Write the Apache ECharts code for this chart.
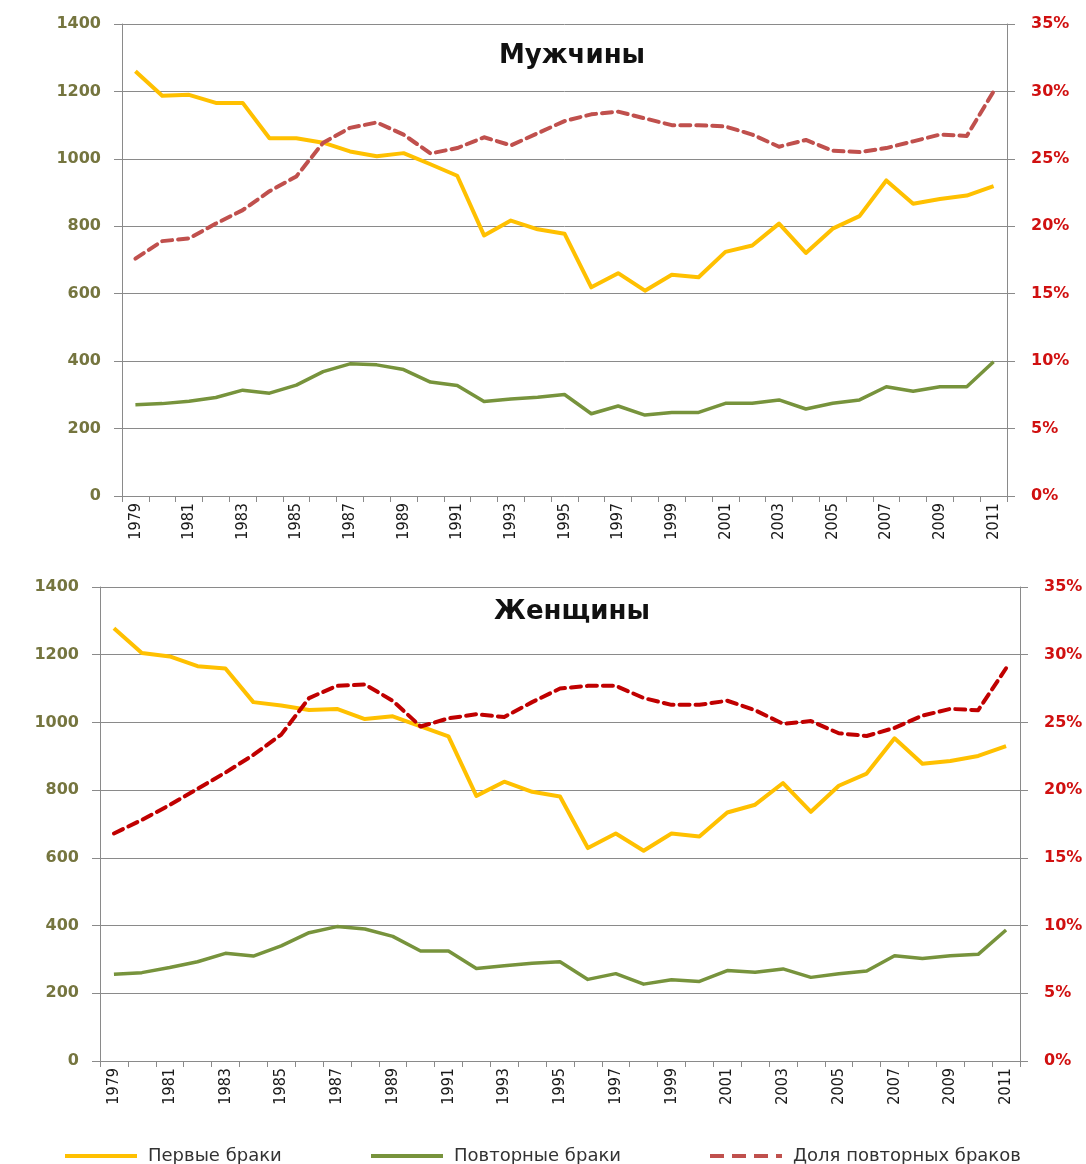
<!DOCTYPE html>
<html>
<head>
<meta charset="utf-8">
<script src="https://cdn.jsdelivr.net/npm/echarts/dist/echarts.min.js"></script>
<style>
  html, body { margin: 0; padding: 0; background: #fff; }
  #chart { width: 1086px; height: 1164px; }
</style>
</head>
<body>
<div id="chart"></div>
<script>
const years = ['1979', '1980', '1981', '1982', '1983', '1984', '1985', '1986', '1987', '1988', '1989',
  '1990', '1991', '1992', '1993', '1994', '1995', '1996', '1997', '1998', '1999', '2000',
  '2001', '2002', '2003', '2004', '2005', '2006', '2007', '2008', '2009', '2010', '2011']

// Мужчины
const menFirst = [1260, 1187, 1190, 1166, 1166, 1061, 1061, 1048, 1022, 1008, 1017, 984, 950, 773, 817, 791, 778,
  619, 661, 609, 656, 649, 724, 743, 808, 721, 793, 830, 936, 867, 881, 891, 919]
const menRepeat = [271, 274, 281, 292, 314, 305, 329, 369, 392, 389, 375, 338, 328, 280, 288, 293, 301,
  244, 267, 240, 248, 248, 275, 275, 285, 258, 275, 285, 324, 311, 324, 324, 398]
const menShare = [17.6, 18.9, 19.1, 20.2, 21.2, 22.6, 23.7, 26.2, 27.3, 27.7, 26.8, 25.4, 25.8, 26.6, 26.0, 26.9, 27.8,
  28.3, 28.5, 28.0, 27.5, 27.5, 27.4, 26.8, 25.9, 26.4, 25.6, 25.5, 25.8, 26.3, 26.8, 26.7, 30.0]

// Женщины
const womenFirst = [1278, 1205, 1195, 1166, 1159, 1060, 1050, 1037, 1040, 1010, 1018, 988, 959, 783, 825, 795, 781,
  629, 672, 621, 672, 663, 734, 757, 821, 736, 813, 849, 953, 878, 886, 901, 930]
const womenRepeat = [256, 261, 276, 293, 318, 310, 340, 379, 397, 390, 368, 325, 325, 273, 281, 289, 293,
  241, 258, 227, 240, 235, 267, 262, 272, 247, 258, 266, 311, 303, 311, 315, 387]
const womenShare = [16.8, 17.8, 18.9, 20.1, 21.3, 22.6, 24.1, 26.8, 27.7, 27.8, 26.6, 24.7, 25.3, 25.6, 25.4, 26.5, 27.5,
  27.7, 27.7, 26.8, 26.3, 26.3, 26.6, 25.9, 24.9, 25.1, 24.2, 24.0, 24.6, 25.5, 26.0, 25.9, 29.0]

const countTicks = [0, 200, 400, 600, 800, 1000, 1200, 1400]
const shareTicks = [0, 5, 10, 15, 20, 25, 30, 35]

const names = ['Первые браки', 'Повторные браки', 'Доля повторных браков']
const colors = ['#ffc000', '#77933c', '#c0504d']
const axisGray = '#8a8a8a'
const font = 'DejaVu Sans'

function xAxis(gridIndex) {
  return {
    type: 'category',
    gridIndex,
    data: years,
    boundaryGap: true,
    axisLine: { lineStyle: { color: axisGray } },
    axisTick: { show: true, interval: 0, length: 6, lineStyle: { color: axisGray } },
    axisLabel: {
      interval: 1,
      rotate: 90,
      margin: 7,
      color: '#1a1a1a',
      fontFamily: '"DejaVu Sans Condensed", "Liberation Sans Narrow", sans-serif',
      fontSize: 16
    }
  }
}

function countAxis(gridIndex) {
  return {
    type: 'value',
    gridIndex,
    position: 'left',
    min: countTicks[0],
    max: countTicks[countTicks.length - 1],
    interval: 200,
    axisLine: { show: true, lineStyle: { color: axisGray } },
    axisTick: { show: true, length: 8, lineStyle: { color: axisGray } },
    splitLine: { lineStyle: { color: axisGray } },
    axisLabel: {
      margin: 21, color: '#75753f', fontWeight: 'bold', fontFamily: font, fontSize: 16,
      formatter: (v) => String(v)
    }
  }
}

function shareAxis(gridIndex) {
  return {
    type: 'value',
    gridIndex,
    position: 'right',
    min: shareTicks[0],
    max: shareTicks[shareTicks.length - 1],
    interval: 5,
    axisLine: { show: true, lineStyle: { color: axisGray } },
    axisTick: { show: true, length: 8, lineStyle: { color: axisGray } },
    splitLine: { show: false },
    axisLabel: { margin: 24, color: '#d01010', fontWeight: 'bold', fontFamily: font, fontSize: 16, formatter: '{value}%' }
  }
}

function lines(xIndex, yLeft, yRight, first, repeat, share, shareColor) {
  return [
    {
      name: names[0], type: 'line', xAxisIndex: xIndex, yAxisIndex: yLeft, data: first,
      symbol: 'none', lineStyle: { color: colors[0], width: 4, join: 'round' }, itemStyle: { color: colors[0] }
    },
    {
      name: names[1], type: 'line', xAxisIndex: xIndex, yAxisIndex: yLeft, data: repeat,
      symbol: 'none', lineStyle: { color: colors[1], width: 3.5, join: 'round' }, itemStyle: { color: colors[1] }
    },
    {
      name: names[2], type: 'line', xAxisIndex: xIndex, yAxisIndex: yRight, data: share,
      symbol: 'none', lineStyle: { color: shareColor, width: 4, type: [10, 6], cap: 'round', join: 'round' },
      itemStyle: { color: shareColor }
    }
  ]
}

function legend(i, left, dashed) {
  return {
    data: [names[i]],
    left,
    top: 1142,
    itemWidth: 72,
    itemHeight: 14,
    itemGap: 0,
    itemStyle: { opacity: 0 },
    lineStyle: { width: 4, color: colors[i], type: dashed ? [14, 8] : 'solid', cap: 'butt' },
    textStyle: { color: '#333', fontFamily: font, fontSize: 18, padding: [0, 0, 0, 6] }
  }
}

const chart = echarts.init(document.getElementById('chart'))

chart.setOption({
  backgroundColor: '#fff',
  animation: false,
  title: [
    { text: 'Мужчины', left: 567, top: 38, textAlign: 'center',
      textStyle: { fontFamily: font, fontWeight: 'bold', fontSize: 26, color: '#111' } },
    { text: 'Женщины', left: 567, top: 594, textAlign: 'center',
      textStyle: { fontFamily: font, fontWeight: 'bold', fontSize: 26, color: '#111' } }
  ],
  legend: [
    legend(0, 58, false),
    legend(1, 364, false),
    legend(2, 703, true)
  ],
  grid: [
    { left: 122, right: 79, top: 24, height: 472 },
    { left: 100, right: 66, top: 587, height: 474 }
  ],
  xAxis: [xAxis(0), xAxis(1)],
  yAxis: [countAxis(0), shareAxis(0), countAxis(1), shareAxis(1)],
  series: [
    ...lines(0, 0, 1, menFirst, menRepeat, menShare, colors[2]),
    ...lines(1, 2, 3, womenFirst, womenRepeat, womenShare, '#c00000')
  ]
})
</script>
</body>
</html>
